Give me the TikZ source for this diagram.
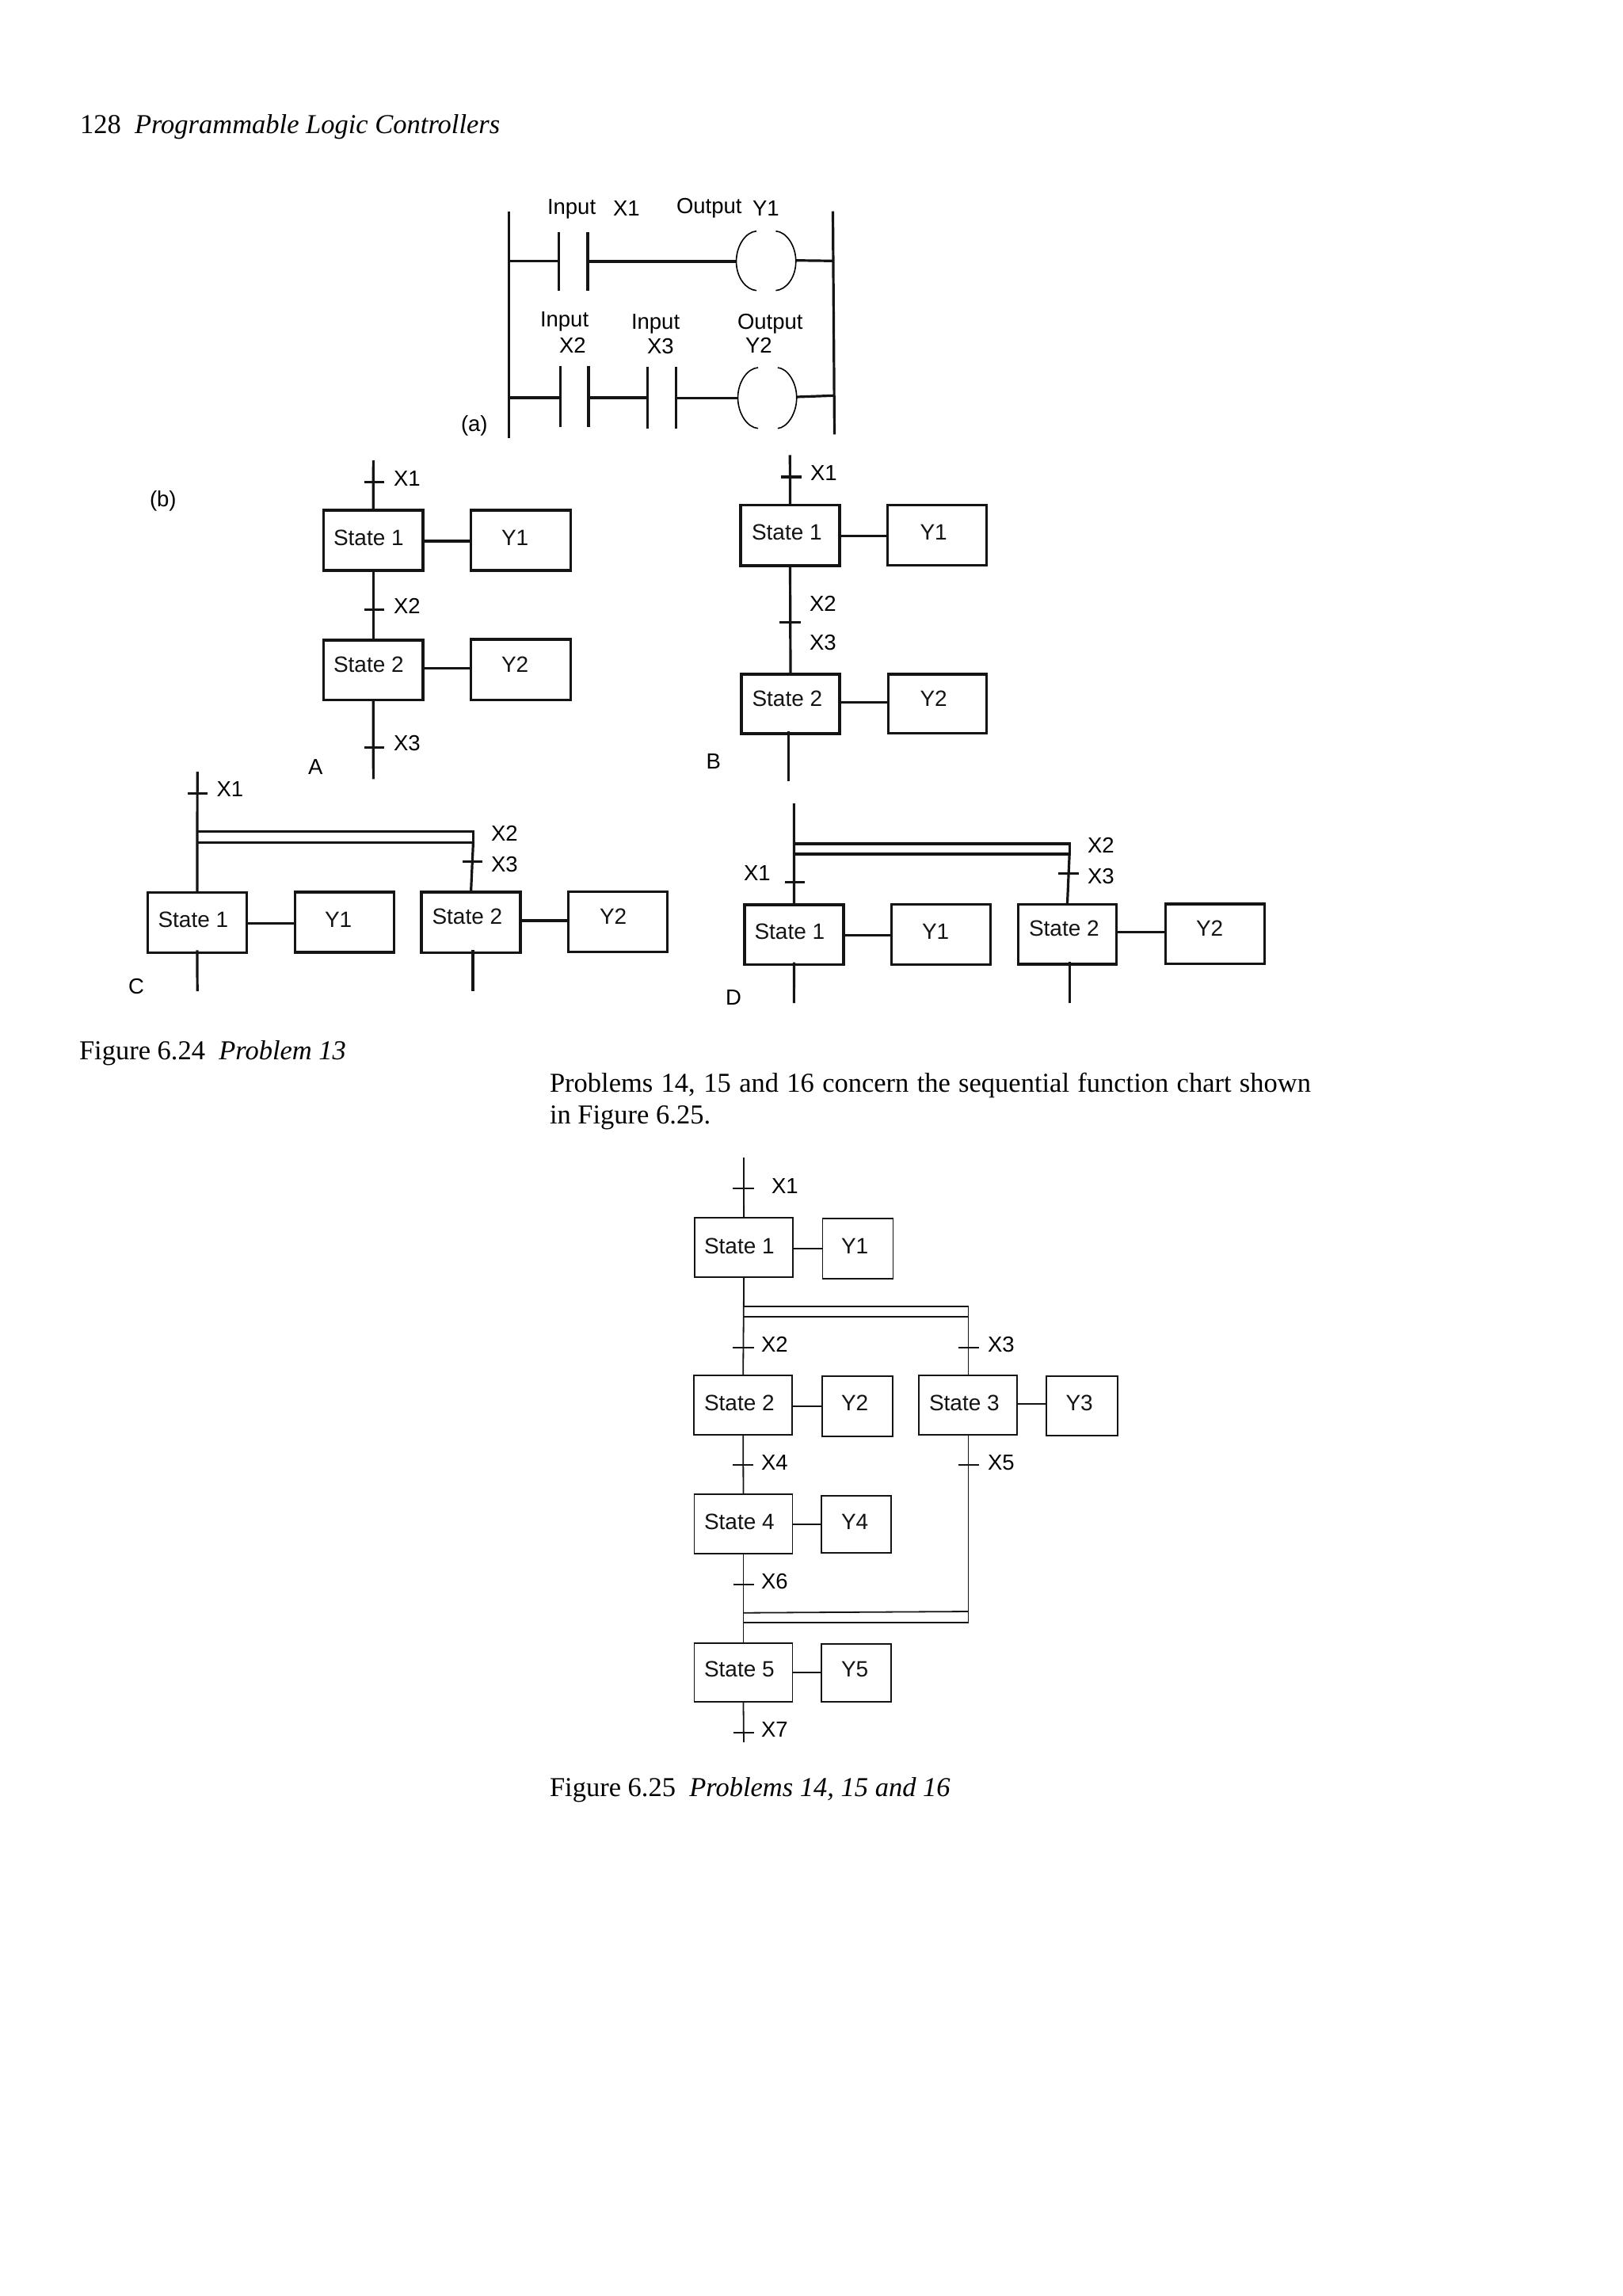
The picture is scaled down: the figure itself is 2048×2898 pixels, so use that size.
\documentclass[tikz,border=0pt]{standalone}
\usepackage{fontspec}
\setmainfont{Liberation Serif}
\newfontfamily\dsans{Liberation Sans}
\tikzset{
  x=1pt,y=-1pt,
  heavy/.style={line width=3.2pt,black!92},
  fine/.style={line width=1.8pt,black!92},
  bxshape/.style={draw,rectangle,inner sep=0pt,outer sep=0pt,font=\dsans\fontsize{28}{30}\selectfont},
  lbl/.style={anchor=base west,inner sep=0pt,outer sep=0pt,font=\dsans\fontsize{27.5}{30}\selectfont},
  body/.style={anchor=base west,inner sep=0pt,outer sep=0pt,font=\fontsize{34.5}{40}\selectfont},
  coilline/.style={line width=1.6pt,black},
  crop/.style={xshift=#1*0.005pt+1pt,xscale=0.995},
}
\def\ox{0}
% name, style, x0, y0, x1, y1, text x, text baseline y, text
\newcommand\bxn[9]{%
  \pgfmathsetmacro\cxx{(#3+#5)/2}\pgfmathsetmacro\cyy{(#4+#6)/2}%
  \pgfmathsetmacro\www{#5-#3}\pgfmathsetmacro\hhh{#6-#4}%
  \pgfmathsetmacro\ddx{#7-\cxx+(\cxx-\ox)*0.005}\pgfmathsetmacro\ddy{\cyy-#8}%
  \node[bxshape,#2,minimum width=\www pt,minimum height=\hhh pt] (#1) at (\cxx,\cyy)
    {\smash{\makebox[0pt][l]{\hspace{\ddx pt}\raisebox{\ddy pt}{#9}}}};}
% style, from, to, y
\newcommand\lnk[4]{\draw[#1] (#2.east |- 0,#4) -- (#3.west |- 0,#4);}
% name, style, x0, x1, y : a transition bar
\newcommand\tickbar[5]{%
  \coordinate (#1a) at (#3,#5); \coordinate (#1b) at (#4,#5);
  \draw[#2] (#1a) -- (#1b);}
% contact: name, x, y0, y1
\newcommand\contact[4]{%
  \coordinate (#1t) at (#2,#3); \coordinate (#1b) at (#2,#4);
  \draw[heavy] (#1t) -- (#1b);}
% coil parentheses: left-tip x, right-tip x, gap-left x, gap-right x, top, mid, bottom
\newcommand\coil[7]{%
  \draw[coilline] (#3,#5) .. controls ({#1+12},{#5+1}) and (#1,{#6-20}) .. (#1,#6) .. controls (#1,{#6+20}) and ({#1+12},{#7-1}) .. (#3,#7);
  \draw[coilline] (#4,#5) .. controls ({#2-12},{#5+1}) and (#2,{#6-20}) .. (#2,#6) .. controls (#2,{#6+20}) and ({#2-12},{#7-1}) .. (#4,#7);}
\begin{document}
\begin{tikzpicture}
\useasboundingbox[fill=white] (0,0) rectangle (2048,2898);
% page text
\node[body] (hdr) at (101,168.8) {128\hspace{0.5em}\itshape Programmable Logic Controllers};
\node[body] (cap24) at (100,1337.2) {Figure 6.24\hspace{0.5em}\itshape Problem 13};
\node[body] (para1) at (694,1378.2) {\makebox[961pt][s]{Problems 14, 15 and 16 concern the sequential function chart shown}};
\node[body] (para2) at (694,1418.2) {in Figure 6.25.};
\node[body] (cap25) at (694,2267.2) {Figure 6.25\hspace{0.5em}\itshape Problems 14, 15 and 16};

% ---------- (a) ladder
\begin{scope}[crop=560]
\coordinate (rlt) at (642,266.7); \coordinate (rlb) at (642,553.3);
\coordinate (rrt) at (1053,266.7); \coordinate (rrb) at (1055,548.3);
\draw[heavy] (rlt) -- (rlb); \draw[heavy] (rrt) -- (rrb);
\coordinate (r1l) at (642,329.3); \coordinate (r1r) at (1053.5,329.3);
\coordinate (r2l) at (642,502); \coordinate (r2r) at (1054.5,499.3);
\contact{ca}{705}{292.7}{367.3}
\contact{cb}{742}{292.7}{367.3}
\coordinate (c1l) at (930.4,330); \coordinate (c1r) at (1006,328.7);
\draw[heavy] (r1l) -- (cat |- r1l);
\draw[heavy] (cbt |- c1l) -- (c1l);
\draw[heavy] (c1r) -- (r1r);
\coil{930.4}{1006}{956}{980.5}{291.7}{330}{366.7}
\contact{cc}{707}{461.7}{539.3}
\contact{cd}{743}{461.7}{539.3}
\contact{ce}{817.5}{463.3}{540.7}
\contact{cf}{854}{463.3}{540.7}
\coordinate (c2l) at (932.4,502.5); \coordinate (c2r) at (1007,501);
\draw[heavy] (r2l) -- (cct |- r2l);
\draw[heavy] (cdt |- r2l) -- (cet |- r2l);
\draw[heavy] (cft |- c2l) -- (c2l);
\draw[heavy] (c2r) -- (r2r);
\coil{932.4}{1007}{958}{983}{464}{502}{540.7}
\end{scope}
\node[lbl] (la1) at (691,270) {Input};
\node[lbl] (la2) at (774,272.3) {X1};
\node[lbl] (la3) at (854,269) {Output};
\node[lbl] (la4) at (950,272.3) {Y1};
\node[lbl] (la5) at (682,412.7) {Input};
\node[lbl] (la6) at (706,445) {X2};
\node[lbl] (la7) at (797,415) {Input};
\node[lbl] (la8) at (817,446.7) {X3};
\node[lbl] (la9) at (931,415) {Output};
\node[lbl] (la10) at (941,445) {Y2};
\node[lbl] (la11) at (582,544) {(a)};
\node[lbl] (lb0) at (189,639.3) {(b)};

% ---------- A
\def\ox{350}
\begin{scope}[crop=150]
\coordinate (Atop) at (472,581); \coordinate (Aend) at (472,983.3);
\bxn{As1}{heavy}{409}{644}{534.6}{720}{421}{688.3}{State 1}
\bxn{Ay1}{heavy}{596}{644}{721.7}{720}{633}{688.3}{Y1}
\bxn{As2}{heavy}{409}{808}{534.6}{883.3}{421}{848.3}{State 2}
\bxn{Ay2}{heavy}{596}{807}{721.7}{883.3}{633}{848.3}{Y2}
\draw[heavy] (Atop) -- (As1.north);
\draw[heavy] (As1.south) -- (As2.north);
\draw[heavy] (As2.south) -- (Aend);
\lnk{heavy}{As1}{Ay1}{683}
\lnk{heavy}{As2}{Ay2}{843.7}
\tickbar{At1}{heavy}{460.4}{485.8}{608.3}
\tickbar{At2}{heavy}{460.4}{485.8}{769.3}
\tickbar{At3}{heavy}{460.4}{485.8}{943.7}
\end{scope}
\node[lbl] (Al1) at (497,613.3) {X1};
\node[lbl] (Al2) at (497,774) {X2};
\node[lbl] (Al3) at (497,947.7) {X3};
\node[lbl] (Al4) at (389,977.3) {A};

% ---------- B
\def\ox{\cxx}
\coordinate (Btop) at (997.3,574.3); \coordinate (Bend) at (995.7,986);
\bxn{Bs1}{heavy}{935}{637.7}{1060}{714}{949}{681.7}{State 1}
\bxn{By1}{heavy}{1120.3}{637.7}{1245.7}{713.3}{1161.5}{681.7}{Y1}
\bxn{Bs2}{heavy}{936}{851}{1060}{926}{949.5}{891}{State 2}
\bxn{By2}{heavy}{1121.3}{851}{1245.7}{925.3}{1161.5}{891}{Y2}
\draw[heavy] (Btop) -- (Bs1.north);
\draw[heavy] (Bs1.south) -- (Bs2.north);
\draw[heavy] (Bend |- Bs2.south) ++(0,-3) -- (Bend);
\lnk{heavy}{Bs1}{By1}{676.7}
\lnk{heavy}{Bs2}{By2}{886.3}
\tickbar{Bt1}{heavy}{986}{1011.7}{602}
\tickbar{Bt2}{heavy}{984.3}{1010.7}{785.7}
\node[lbl] (Bl1) at (1023,606) {X1};
\node[lbl] (Bl2) at (1022,771) {X2};
\node[lbl] (Bl3) at (1022,820) {X3};
\node[lbl] (Bl4) at (891.5,970) {B};

% ---------- C
\def\ox{330}
\begin{scope}[crop=130]
\coordinate (Ctop) at (248.8,974);
\coordinate (Cend1) at (248.8,1251); \coordinate (Cend2) at (598.3,1251);
\coordinate (Cbt1) at (248.8,1049.7); \coordinate (Cbt2) at (598.8,1049.7);
\coordinate (Cbb1) at (248.8,1063.3); \coordinate (Cbb2) at (598.8,1063.3);
\bxn{Cs1}{heavy}{186}{1126.7}{311}{1202.3}{199.5}{1170}{State 1}
\bxn{Cy1}{heavy}{372.8}{1126}{497.8}{1202}{410}{1170}{Y1}
\bxn{Cs2}{heavy}{533.4}{1126}{658.4}{1202.3}{545.5}{1166.7}{State 2}
\bxn{Cy2}{heavy}{720}{1125.3}{845}{1201.3}{757}{1166.7}{Y2}
\draw[heavy] (Ctop) -- (Cs1.north);
\draw[heavy] (Cbt1) -- (Cbt2) -- (Cbb2) -- (Cbb1);
\draw[heavy] (Cbb2) -- (Cs2.north);
\draw[heavy] (Cs1.south) ++(0,-3) -- (Cend1);
\draw[heavy] (Cend2 |- Cs2.south) ++(0,-3) -- (Cend2);
\lnk{heavy}{Cs1}{Cy1}{1165.3}
\lnk{heavy}{Cs2}{Cy2}{1162}
\tickbar{Ct1}{heavy}{237}{262}{1001.3}
\tickbar{Ct2}{heavy}{585}{610}{1087.7}
\end{scope}
\node[lbl] (Cl1) at (273.5,1005.7) {X1};
\node[lbl] (Cl2) at (620,1061) {X2};
\node[lbl] (Cl3) at (620,1100) {X3};
\node[lbl] (Cl4) at (162,1254) {C};

% ---------- D
\def\ox{1080}
\begin{scope}[crop=880]
\coordinate (Dtop) at (1002,1014);
\coordinate (Dend1) at (1002,1266); \coordinate (Dend2) at (1351.6,1266);
\coordinate (Dbt1) at (1002,1065); \coordinate (Dbt2) at (1351.6,1065);
\coordinate (Dbb1) at (1002,1078); \coordinate (Dbb2) at (1351.6,1078);
\bxn{Ds1}{heavy}{939.6}{1142}{1064.6}{1217.7}{952.5}{1185}{State 1}
\bxn{Dy1}{heavy}{1126}{1141.7}{1251}{1217.7}{1164}{1185}{Y1}
\bxn{Ds2}{heavy}{1286.7}{1141.3}{1411}{1217}{1299}{1181.7}{State 2}
\bxn{Dy2}{heavy}{1473.8}{1141}{1598.8}{1216.3}{1510}{1181.7}{Y2}
\draw[heavy] (Dtop) -- (Ds1.north);
\draw[heavy] (Dbt1) -- (Dbt2) -- (Dbb2) -- (Dbb1);
\draw[heavy] (Dbb2) -- (Ds2.north);
\draw[heavy] (Ds1.south) ++(0,-3) -- (Dend1);
\draw[heavy] (Dend2 |- Ds2.south) ++(0,-3) -- (Dend2);
\lnk{heavy}{Ds1}{Dy1}{1180.7}
\lnk{heavy}{Ds2}{Dy2}{1176.7}
\tickbar{Dt1}{heavy}{990.6}{1016}{1113.3}
\tickbar{Dt2}{heavy}{1337.7}{1363}{1102.3}
\end{scope}
\node[lbl] (Dl1) at (939,1111) {X1};
\node[lbl] (Dl2) at (1373,1076) {X2};
\node[lbl] (Dl3) at (1373,1115.3) {X3};
\node[lbl] (Dl4) at (916,1268.7) {D};

% ---------- Figure 6.25
\def\ox{1040}
\begin{scope}[crop=840]
\coordinate (Ftop) at (938.5,1461); \coordinate (Fend) at (938.5,2199);
\bxn{Fs1}{fine}{876.5}{1537}{1000.8}{1611.7}{889}{1582.3}{State 1}
\bxn{Fy1}{fine}{1038.8}{1537.7}{1127.7}{1613.7}{1062}{1582.3}{Y1}
\bxn{Fs2}{fine}{875.8}{1736}{999.6}{1811}{889}{1780}{State 2}
\bxn{Fy2}{fine}{1038}{1737}{1127.3}{1813}{1062}{1780}{Y2}
\bxn{Fs3}{fine}{1160.8}{1736}{1284.6}{1811}{1173}{1780}{State 3}
\bxn{Fy3}{fine}{1323}{1737}{1412.3}{1812.3}{1345.5}{1780}{Y3}
\bxn{Fs4}{fine}{876}{1886}{1000}{1961}{889}{1930}{State 4}
\bxn{Fy4}{fine}{1037}{1887.7}{1125.4}{1960.3}{1062}{1930}{Y4}
\bxn{Fs5}{fine}{876}{2073.7}{1000}{2148.3}{889}{2116.7}{State 5}
\bxn{Fy5}{fine}{1037}{2075}{1125.4}{2147.7}{1062}{2116.7}{Y5}
\draw[fine] (Ftop) -- (Fs1.north);
\draw[fine] (Fs1.south) -- (Fs2.north);
\draw[fine] (Fs2.south) -- (Fs4.north);
\draw[fine] (Fs4.south) -- (Fs5.north);
\draw[fine] (Fs5.south) -- (Fend);
\coordinate (Fbt1) at (938.5,1648.7); \coordinate (Fbt2) at (1223.5,1648.7);
\coordinate (Fbb1) at (938.5,1661.7); \coordinate (Fbb2) at (1223.5,1661.7);
\coordinate (Fjt1) at (938.5,2035.7); \coordinate (Fjt2) at (1223.5,2034);
\coordinate (Fjb1) at (938.5,2047.7); \coordinate (Fjb2) at (1223.5,2047.7);
\draw[fine] (Fbt1) -- (Fbt2) -- (Fbb2) -- (Fbb1);
\draw[fine] (Fbb2) -- (Fs3.north -| Fbb2);
\draw[fine] (Fs3.south -| Fbb2) -- (Fjb2) -- (Fjb1);
\draw[fine] (Fjt1) -- (Fjt2);
\lnk{fine}{Fs1}{Fy1}{1576}
\lnk{fine}{Fs2}{Fy2}{1774.7}
\lnk{fine}{Fs3}{Fy3}{1772.3}
\lnk{fine}{Fs4}{Fy4}{1924}
\lnk{fine}{Fs5}{Fy5}{2111}
\tickbar{Ft1}{fine}{924.6}{951.5}{1500}
\tickbar{Ft2}{fine}{924.6}{951.5}{1700.7}
\tickbar{Ft3}{fine}{1210.4}{1237}{1700.7}
\tickbar{Ft4}{fine}{924}{951}{1849}
\tickbar{Ft5}{fine}{1210.4}{1237}{1849}
\tickbar{Ft6}{fine}{925}{952}{2000}
\tickbar{Ft7}{fine}{925}{952}{2186.7}
\end{scope}
\node[lbl] (Fl1) at (974,1506.7) {X1};
\node[lbl] (Fl2) at (961,1706.7) {X2};
\node[lbl] (Fl3) at (1247,1706.7) {X3};
\node[lbl] (Fl4) at (961,1855) {X4};
\node[lbl] (Fl5) at (1247,1855) {X5};
\node[lbl] (Fl6) at (961,2005) {X6};
\node[lbl] (Fl7) at (961,2192.7) {X7};
\end{tikzpicture}
\end{document}
